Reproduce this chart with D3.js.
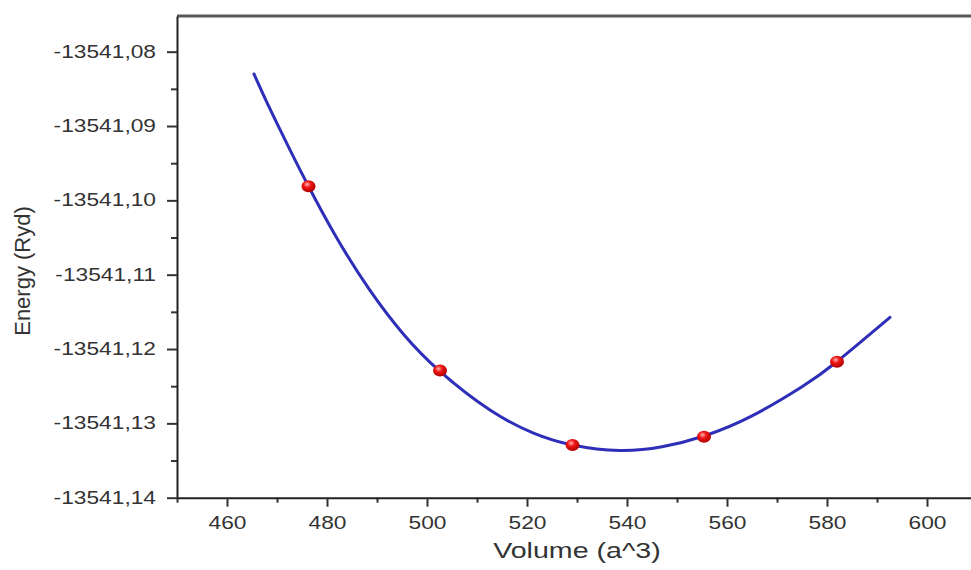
<!DOCTYPE html>
<html><head><meta charset="utf-8">
<script src="https://cdn.jsdelivr.net/npm/d3@7"></script>
<style>body{margin:0;background:#fff}</style>
</head><body>
<svg id="c" width="971" height="570"></svg>
<script>
// ---- data ----
const volumes  = [476.3, 502.6, 529.1, 555.4, 582.0];
const energies = [-13541.0981, -13541.1229, -13541.1329, -13541.1318, -13541.1217];

const fitVolumes  = [465.4, 468.6, 472.6, 476.3, 481.9, 488.6, 495.3, 502.6, 512.6, 521.3, 529.1, 538.5, 547.0, 555.4, 565.0, 575.0, 581.9, 592.6];
const fitEnergies = [-13541.08300, -13541.08770, -13541.09320, -13541.09810, -13541.10500, -13541.11210, -13541.11800, -13541.12300, -13541.12820, -13541.13130, -13541.13290, -13541.13365, -13541.13315, -13541.13170, -13541.12899, -13541.12507, -13541.12175, -13541.11575];

const xTicks      = [460, 480, 500, 520, 540, 560, 580, 600];
const xMinorTicks = [450, 470, 490, 510, 530, 550, 570, 590];
const yTicks      = [-13541.08, -13541.09, -13541.10, -13541.11, -13541.12, -13541.13, -13541.14];
const yMinorTicks = [-13541.085, -13541.095, -13541.105, -13541.115, -13541.125, -13541.135];
const xTitle = "Volume (a^3)";
const yTitle = "Energy (Ryd)";

// ---- layout ----
const svg = d3.select("#c");
const L = 177, R = 977, T = 16, B = 497.7;
const x = d3.scaleLinear().domain([450, 610]).range([L, R]);
const y = d3.scaleLinear().domain([-13541.14, -13541.0752]).range([B, T]);

const loc = d3.formatLocale({decimal: ",", thousands: "", grouping: [3], currency: ["", ""], minus: "-"});
const fmt = loc.format(".2f");
const SX = 1.3;
const FONT = "'Liberation Sans', Arial, sans-serif";

function stretch(sel, sx) {
  sel.each(function() {
    const t = d3.select(this);
    const xx = +t.attr("x") || 0;
    t.attr("x", xx / sx).attr("transform", `scale(${sx},1)`);
  });
}

// top frame line
svg.append("line").attr("x1", L).attr("x2", R).attr("y1", T).attr("y2", T)
  .attr("stroke", "#5a5a5a").attr("stroke-width", 3);

// minor ticks
svg.append("g").attr("transform", `translate(0,${B})`)
  .call(d3.axisBottom(x).tickValues(xMinorTicks).tickSize(5).tickFormat(""))
  .call(g => g.select(".domain").remove())
  .selectAll("line").attr("stroke", "#333").attr("stroke-width", 2);
svg.append("g").attr("transform", `translate(${L},0)`)
  .call(d3.axisLeft(y).tickValues(yMinorTicks).tickSize(6).tickFormat(""))
  .call(g => g.select(".domain").remove())
  .selectAll("line").attr("stroke", "#333").attr("stroke-width", 2);

// major axes
const gx = svg.append("g").attr("transform", `translate(0,${B})`)
  .call(d3.axisBottom(x).tickValues(xTicks).tickSize(9).tickSizeOuter(0).tickPadding(10).tickFormat(d3.format("d")));
const gy = svg.append("g").attr("transform", `translate(${L},0)`)
  .call(d3.axisLeft(y).tickValues(yTicks).tickSize(10).tickSizeOuter(0).tickPadding(11).tickFormat(fmt));
[gx, gy].forEach(g => {
  g.select(".domain").attr("stroke", "#222").attr("stroke-width", 2);
  g.selectAll(".tick line").attr("stroke", "#333").attr("stroke-width", 2);
  g.selectAll(".tick text").attr("font-family", FONT).attr("font-size", 17.5).attr("fill", "#333");
});
stretch(gx.selectAll(".tick text"), SX);
stretch(gy.selectAll(".tick text"), SX);

// axis titles
const xt = svg.append("text").attr("x", (L + R) / 2).attr("y", 558)
  .attr("text-anchor", "middle").attr("font-family", FONT).attr("font-size", 22).attr("fill", "#333").text(xTitle);
stretch(xt, SX);
svg.append("text").attr("transform", "translate(30,271) rotate(-90)")
  .attr("text-anchor", "middle").attr("font-family", FONT).attr("font-size", 22).attr("fill", "#333").text(yTitle);

// fitted curve
const fit = fitVolumes.map((v, i) => [v, fitEnergies[i]]);
svg.append("path").datum(fit)
  .attr("d", d3.line().x(d => x(d[0])).y(d => y(d[1])).curve(d3.curveNatural))
  .attr("fill", "none").attr("stroke", "#2e2eb8").attr("stroke-width", 3).attr("stroke-linecap", "round");

// points
const defs = svg.append("defs");
const grad = defs.append("radialGradient").attr("id", "ball").attr("cx", "40%").attr("cy", "35%").attr("r", "65%");
grad.append("stop").attr("offset", "0%").attr("stop-color", "#ffb3b3");
grad.append("stop").attr("offset", "40%").attr("stop-color", "#f01818");
grad.append("stop").attr("offset", "100%").attr("stop-color", "#b00000");

svg.append("g").selectAll("ellipse").data(volumes.map((v, i) => [v, energies[i]]))
  .join("ellipse")
  .attr("cx", d => x(d[0])).attr("cy", d => y(d[1]))
  .attr("rx", 7).attr("ry", 6)
  .attr("fill", "url(#ball)");
</script>
</body></html>
